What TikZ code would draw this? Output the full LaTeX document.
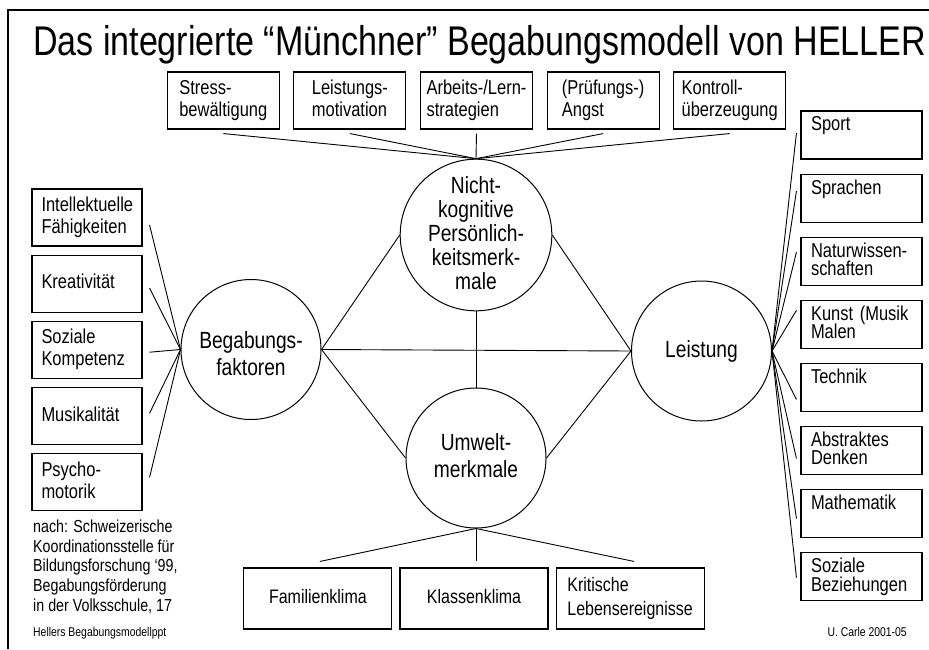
\documentclass[tikz,border=0pt]{standalone}
\usepackage{fontspec}
\setmainfont{Liberation Sans}[FakeStretch=0.82]
\usetikzlibrary{positioning}

\newcommand{\setfs}[2]{\fontsize{#1}{#2}\selectfont\lineskiplimit=-100pt}
\newcommand{\boxstrut}{\rule[-0.21em]{0pt}{0.94em}}

\begin{document}
\begin{tikzpicture}[x=1pt,y=-1pt,
	every node/.style={execute at begin node=\boxstrut, execute at end node=\boxstrut},
	roundnode/.style={circle, draw, line width=1pt, minimum size=140pt, inner sep=0pt, align=center, font=\setfs{23.4}{27}},
	topbox/.style={rectangle, draw, line width=1.1pt, minimum width=112pt, minimum height=57pt, inner sep=0pt, align=left, font=\setfs{20.1}{22}},
	leftbox/.style={rectangle, draw, line width=1.1pt, minimum height=57pt, text width=91pt, inner xsep=9.5pt, inner ysep=0pt, align=left, font=\setfs{20.1}{22}},
	rightbox/.style={rectangle, draw, line width=1.1pt, minimum height=48pt, text width=101pt, inner xsep=10pt, inner ysep=0pt, align=left, font=\setfs{20.1}{18.5}},
	bottombox/.style={rectangle, draw, line width=1.1pt, minimum width=148pt, minimum height=61pt, inner sep=0pt, align=left, font=\setfs{19.5}{24}},
	link/.style={line width=0.9pt}]

	\useasboundingbox (0,0) rectangle (929,649);
	\draw[line width=1.6pt] (929,10) -- (8,10) -- (8,649);

	\node[anchor=base west, inner sep=0pt, font=\setfs{41.5}{48}] (title) at (33,55) {Das integrierte “Münchner” Begabungsmodell von HELLER};

	% the four circles
	\node[roundnode] (bf) at (251,349.5) {\rule{0pt}{29pt}Begabungs-\\faktoren};
	\node[roundnode, font=\setfs{23.4}{24}] (nk) at (476,235) {Nicht-\\kognitive\\Persönlich-\\keitsmerk-\\male};
	\node[roundnode] (um) at (476,458) {Umwelt-\\merkmale};
	\node[roundnode] (le) at (701.5,351) {Leistung};

	% top row
	\node[topbox] (t3) at (476.5,100.5) {Arbeits-/Lern-\\strategien};
	\node[topbox] (t2) [left=13.5pt of t3] {Leistungs-\\motivation};
	\node[topbox] (t1) [left=13.5pt of t2] {Stress-\\bewältigung};
	\node[topbox] (t4) [right=13.5pt of t3] {(Prüfungs-)\\Angst};
	\node[topbox] (t5) [right=13.5pt of t4] {Kontroll-\\überzeugung};

	% left column
	\node[leftbox] (l1) at (87,217.5) {Intellektuelle\\Fähigkeiten};
	\node[leftbox] (l2) [below=8pt of l1] {Kreativität};
	\node[leftbox] (l3) [below=8pt of l2] {Soziale\\Kompetenz};
	\node[leftbox] (l4) [below=8pt of l3] {Musikalität};
	\node[leftbox] (l5) [below=8pt of l4] {Psycho-\\motorik};

	% right column
	\node[rightbox] (r1) at (861.5,135) {Sport\\\mbox{}};
	\node[rightbox] (r2) [below=14pt of r1] {Sprachen\\\mbox{}};
	\node[rightbox] (r3) [below=14pt of r2] {Naturwissen-\\schaften};
	\node[rightbox] (r4) [below=14pt of r3] {Kunst (Musik\\Malen};
	\node[rightbox] (r5) [below=14pt of r4] {Technik\\\mbox{}};
	\node[rightbox] (r6) [below=14pt of r5] {Abstraktes\\Denken};
	\node[rightbox] (r7) [below=14pt of r6] {Mathematik\\\mbox{}};
	\node[rightbox] (r8) [below=14pt of r7] {Soziale\\Beziehungen};

	% bottom row
	\node[bottombox] (b2) at (474,598.5) {Klassenklima};
	\node[bottombox] (b1) [left=7pt of b2] {Familienklima};
	\node[bottombox] (b3) [right=7pt of b2] {Kritische\\Lebensereignisse};

	\node[anchor=north west, inner sep=0pt, align=left, font=\setfs{17.4}{19.7}] (src) at (33,519.5) {nach: Schweizerische\\Koordinationsstelle für\\Bildungsforschung ‘99,\\Begabungsförderung\\in der Volksschule, 17};
	\node[anchor=base west, inner sep=0pt, font=\setfs{12.7}{14}] (file) at (33,636) {Hellers Begabungsmodellppt};
	\node[anchor=base east, inner sep=0pt, font=\setfs{12.7}{14}] (auth) at (907,636) {U. Carle 2001-05};

	% connectors
	\draw[link] (bf.east) -- (nk.west);
	\draw[link] (bf.east) -- (um.west);
	\draw[link] (bf.east) -- (le.west);
	\draw[link] (nk.south) -- (um.north);
	\draw[link] (nk.east) -- (le.west);
	\draw[link] (um.east) -- (le.west);

	\draw[link] ([yshift=-4pt]t1.south) -- (nk.north);
	\draw[link] ([yshift=-4pt]t2.south) -- (nk.north);
	\draw[link] ([yshift=-4pt]t3.south) -- (nk.north);
	\draw[link] ([yshift=-4pt]t4.south) -- (nk.north);
	\draw[link] ([yshift=-4pt]t5.south) -- (nk.north);

	\draw[link] ([shift={(7pt,-7.5pt)}]l1.east) -- (bf.west);
	\draw[link] ([shift={(7pt,-4.5pt)}]l2.east) -- (bf.west);
	\draw[link] ([shift={(7pt,-2.5pt)}]l3.east) -- (bf.west);
	\draw[link] ([shift={(7pt,2.5pt)}]l4.east) -- (bf.west);
	\draw[link] ([shift={(7pt,4.5pt)}]l5.east) -- (bf.west);

	\draw[link] ([shift={(-4pt,2pt)}]r1.west) -- (le.east);
	\draw[link] ([shift={(-4pt,7pt)}]r2.west) -- (le.east);
	\draw[link] ([shift={(-4pt,9pt)}]r3.west) -- (le.east);
	\draw[link] ([shift={(-4pt,14pt)}]r4.west) -- (le.east);
	\draw[link] ([shift={(-4pt,-12pt)}]r5.west) -- (le.east);
	\draw[link] ([shift={(-4pt,-8pt)}]r6.west) -- (le.east);
	\draw[link] ([shift={(-4pt,-5pt)}]r7.west) -- (le.east);
	\draw[link] ([shift={(-4pt,-1pt)}]r8.west) -- (le.east);

	\coordinate (k) at ([yshift=6pt]b2.north);
	\draw[link] (um.south) -- ([shift={(2pt,6pt)}]b1.north);
	\draw[link] (um.south) -- (um.south |- k);
	\draw[link] (um.south) -- ([shift={(4pt,6pt)}]b3.north);
\end{tikzpicture}
\end{document}
